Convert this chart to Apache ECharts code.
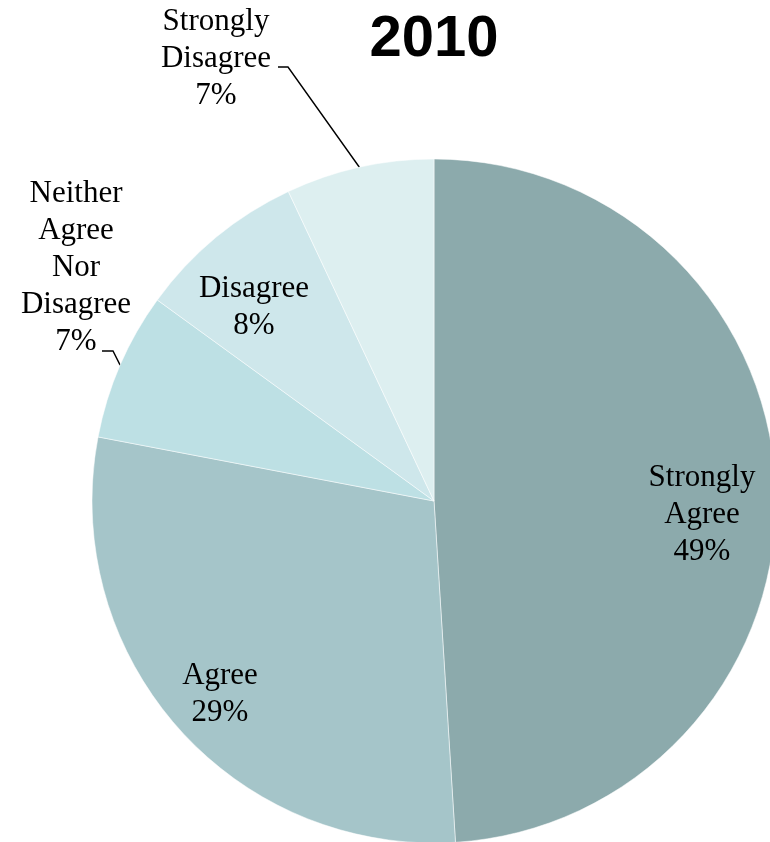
<!DOCTYPE html>
<html>
<head>
<meta charset="utf-8">
<title>2010</title>
<script src="https://cdn.jsdelivr.net/npm/echarts@6/dist/echarts.min.js"></script>
<style>
  html, body { margin: 0; padding: 0; background: #ffffff; }
  #chart { width: 770px; height: 842px; }
</style>
</head>
<body>
<div id="chart"></div>
<script>
// Survey answers for 2010, shares in percent
const categories = ['Strongly Agree', 'Agree', 'Neither Agree Nor Disagree', 'Disagree', 'Strongly Disagree'];
const labelNames = ['Strongly\nAgree', 'Agree', 'Neither\nAgree\nNor\nDisagree', 'Disagree', 'Strongly\nDisagree'];
const shares = [49, 29, 7, 8, 7];
const sliceColors = ['#8caaac', '#a5c5c9', '#bde0e4', '#cee7eb', '#ddeff0'];
const outsideLabels = [false, false, true, false, true];

// Pie geometry
const CX = 434, CY = 501, R = 342;

// Where each label block sits, plus the elbow / end of leader lines
const labelSpots = [
  { x: 702, y: 515 },
  { x: 220, y: 694 },
  { x: 76, y: 268, elbow: [113, 351], end: [102, 351] },
  { x: 254, y: 307 },
  { x: 216, y: 59, elbow: [288, 67], end: [278, 67] }
];

const total = shares.reduce((a, b) => a + b, 0);
const midAngles = [];
let acc = 0;
shares.forEach(v => {
  midAngles.push((acc + v / 2) / total * Math.PI * 2);
  acc += v;
});

const chart = echarts.init(document.getElementById('chart'), null, { renderer: 'canvas' });

chart.setOption({
  animation: false,
  backgroundColor: '#ffffff',
  title: {
    text: '2010',
    left: 429,
    top: 6,
    textAlign: 'center',
    textStyle: {
      fontFamily: 'Liberation Sans',
      fontWeight: 'bold',
      fontSize: 58,
      color: '#000000'
    }
  },
  series: [{
    type: 'pie',
    center: [CX, CY],
    radius: R,
    startAngle: 90,
    clockwise: true,
    avoidLabelOverlap: false,
    itemStyle: { borderColor: 'rgba(255,255,255,0.5)', borderWidth: 1 },
    label: {
      fontFamily: 'Liberation Serif',
      fontSize: 31,
      lineHeight: 37,
      color: '#000000',
      align: 'center',
      formatter: p => labelNames[p.dataIndex] + '\n' + shares[p.dataIndex] + '%'
    },
    labelLine: {
      lineStyle: { color: '#000000', width: 1.4 }
    },
    labelLayout: params => {
      const i = params.dataIndex;
      const spot = labelSpots[i];
      const out = { x: spot.x, y: spot.y, align: 'center', verticalAlign: 'middle' };
      if (outsideLabels[i]) {
        const a = midAngles[i];
        const anchor = [CX + R * Math.sin(a), CY - R * Math.cos(a)];
        out.labelLinePoints = [anchor, spot.elbow, spot.end];
      }
      return out;
    },
    data: categories.map((name, i) => ({
      name: name,
      value: shares[i],
      itemStyle: { color: sliceColors[i] },
      label: { position: outsideLabels[i] ? 'outside' : 'inside' },
      labelLine: { show: outsideLabels[i] }
    })),
    emphasis: { disabled: true }
  }]
});
</script>
</body>
</html>
